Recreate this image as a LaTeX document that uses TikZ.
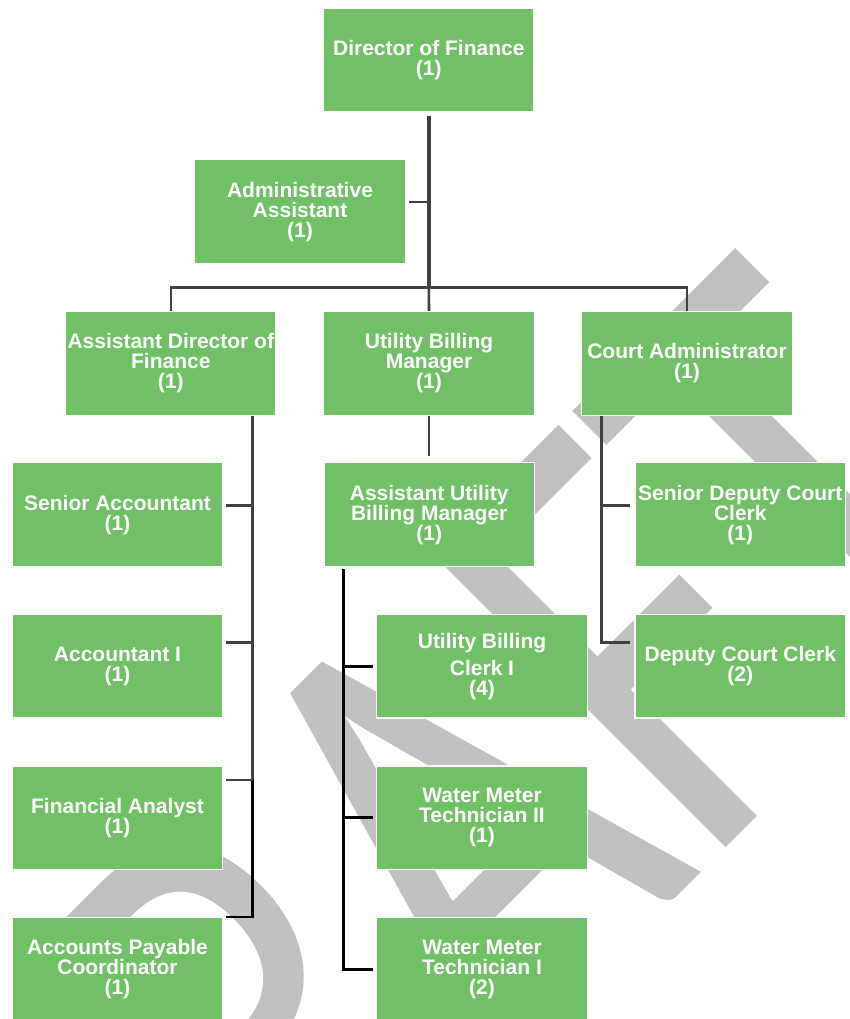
\documentclass[tikz,border=0pt]{standalone}
\usepackage{fontspec}
\usepackage{graphicx}
\newfontfamily\boxfont{Liberation Sans}
\newfontfamily\markfont{Carlito}
\definecolor{boxgreen}{RGB}{113,191,103}
\definecolor{linegrey}{RGB}{64,64,64}
\definecolor{markgrey}{RGB}{192,192,192}

\begin{document}
\begin{tikzpicture}[x=1pt,y=-1pt,
  post/.style={rectangle, fill=boxgreen, draw=white, line width=1.2pt,
    minimum width=210.5pt, minimum height=103.6pt, inner sep=0pt,
    align=center, text=white,
    font=\boxfont\bfseries\fontsize{21}{20}\selectfont},
  conn/.style={draw=linegrey, line width=2.6pt},
  darkconn/.style={draw=black, line width=2.8pt},
  trunk/.style={draw=linegrey, line width=4.2pt}]

\useasboundingbox (0,0) rectangle (849,1019);

% watermark behind the chart
\begin{scope}
  \clip (0,0) rectangle (849,1019);
  \node[rotate=45, anchor=base west, inner sep=0pt, text=markgrey] (mark)
    at (92,1482) {\scalebox{4.97}[6.5]{\markfont\fontsize{100}{100}\selectfont DRAFT}};
\end{scope}

% positions
\node[post] (dir)  at (428.8,60.3)  {Director of Finance\\(1)};
\node[post] (adm)  at (300.0,211.7) {Administrative\\Assistant\\(1)};
\node[post] (adf)  at (170.8,363.3) {Assistant Director of\\Finance\\(1)};
\node[post] (ubm)  at (429.0,363.3) {Utility Billing\\Manager\\(1)};
\node[post] (cad)  at (687.0,363.3) {Court Administrator\\(1)};
\node[post] (sac)  at (117.5,514.6) {Senior Accountant\\(1)};
\node[post] (aubm) at (429.2,514.6) {Assistant Utility\\Billing Manager\\(1)};
\node[post] (sdc)  at (740.3,514.6) {Senior Deputy Court\\Clerk\\(1)};
\node[post] (ac1)  at (117.5,666.2) {Accountant I\\(1)};
\node[post] (ubc)  at (482.0,666.2) {Utility Billing\\[7pt]Clerk I\\(4)};
\node[post] (dcc)  at (740.3,666.2) {Deputy Court Clerk\\(2)};
\node[post] (fan)  at (117.5,817.8) {Financial Analyst\\(1)};
\node[post] (wm2)  at (482.0,817.8) {Water Meter\\Technician II\\(1)};
\node[post] (apc)  at (117.5,969.4) {Accounts Payable\\Coordinator\\(1)};
\node[post] (wm1)  at (482.0,969.4) {Water Meter\\Technician I\\(2)};

% junction points
\coordinate (bus) at (0,287.3);
\coordinate (ja)  at (428.8,202.0);
\coordinate (lt1) at (252.7,505.7);
\coordinate (lt2) at (252.7,642.7);
\coordinate (lt3) at (252.7,780.0);
\coordinate (lt4) at (252.7,917.0);
\coordinate (mt)  at (343.3,569.3);
\coordinate (cj1) at (601.7,505.7);
\coordinate (cj2) at (601.7,642.7);

% top level
\draw[trunk] ([yshift=-3pt]dir.south) -- (dir.south |- bus);
\draw[conn, shorten <=3pt] (adm.east |- ja) -- (ja);
\draw[conn] (adf.north) -- (adf.north |- bus) -- (cad.north |- bus) -- (cad.north);
\draw[conn] (dir.south |- bus) -- (ubm.north);

% finance branch
\draw[conn] (adf.south -| lt1) -- (lt3);
\draw[darkconn, shorten >=3pt] (lt3) -- (lt4) -- (apc.east |- lt4);
\draw[conn, shorten <=3pt] (sac.east |- lt1) -- (lt1);
\draw[conn, shorten <=3pt] (ac1.east |- lt2) -- (lt2);
\draw[conn, shorten <=3pt] (fan.east |- lt3) -- (lt3);

% utility billing branch
\draw[conn, shorten >=6pt] (ubm.south) -- (ubm.south |- aubm.north);
\draw[darkconn, shorten >=3pt] (mt) -- (mt |- wm1.west) -- (wm1.west);
\draw[darkconn, shorten >=3pt] (mt |- ubc.west) -- (ubc.west);
\draw[darkconn, shorten >=3pt] (mt |- wm2.west) -- (wm2.west);

% court branch
\draw[conn, shorten >=4pt] (cad.south -| cj1) -- (cj2) -- (cj2 -| dcc.west);
\draw[conn, shorten >=4pt] (cj1) -- (cj1 -| sdc.west);

\end{tikzpicture}
\end{document}
